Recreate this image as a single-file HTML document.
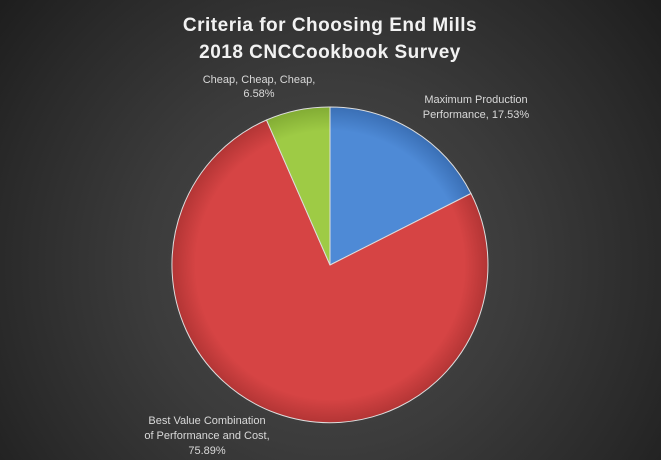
<!DOCTYPE html>
<html><head><style>
html,body{margin:0;padding:0;}
body{width:661px;height:460px;overflow:hidden;background:radial-gradient(circle at 330px 265px,#4a4a4a 0px,#3c3c3c 180px,#2a2a2a 330px,#1e1e1e 420px);}
</style></head><body>
<svg width="661" height="460" xmlns="http://www.w3.org/2000/svg" style="position:absolute;left:0;top:0">
<defs>
<radialGradient id="gb" cx="330" cy="265" r="158" gradientUnits="userSpaceOnUse"><stop offset="0.85" stop-color="#4e8ad6"/><stop offset="1" stop-color="#3a6fb5"/></radialGradient>
<radialGradient id="gr" cx="330" cy="265" r="158" gradientUnits="userSpaceOnUse"><stop offset="0.85" stop-color="#d64444"/><stop offset="1" stop-color="#b33535"/></radialGradient>
<radialGradient id="gg" cx="330" cy="265" r="158" gradientUnits="userSpaceOnUse"><stop offset="0.85" stop-color="#9ecb45"/><stop offset="1" stop-color="#82ac34"/></radialGradient>
</defs>
<g stroke="#ddd" stroke-width="1">
<path d="M330,265 L330,107 A158,158 0 0 1 471,193.5 Z" fill="url(#gb)"/>
<path d="M330,265 L471,193.5 A158,158 0 1 1 266.5,120 Z" fill="url(#gr)"/>
<path d="M330,265 L266.5,120 A158,158 0 0 1 330,107 Z" fill="url(#gg)"/>
</g>
<g font-family="Liberation Sans, sans-serif" font-weight="bold" font-size="19" fill="#f2f2f2" text-anchor="middle" letter-spacing="0.5">
<text x="330" y="31">Criteria  for  Choosing  End  Mills</text>
<text x="330" y="58">2018  CNCCookbook  Survey</text>
</g>
<g font-family="Liberation Sans, sans-serif" font-size="11" fill="#d9d9d9" text-anchor="middle">
<text x="259" y="83">Cheap, Cheap, Cheap,</text>
<text x="259" y="97">6.58%</text>
<text x="476" y="103">Maximum Production</text>
<text x="476" y="118">Performance, 17.53%</text>
<text x="207" y="424">Best Value Combination</text>
<text x="207" y="439">of Performance and Cost,</text>
<text x="207" y="454">75.89%</text>
</g>
</svg>
</body></html>
